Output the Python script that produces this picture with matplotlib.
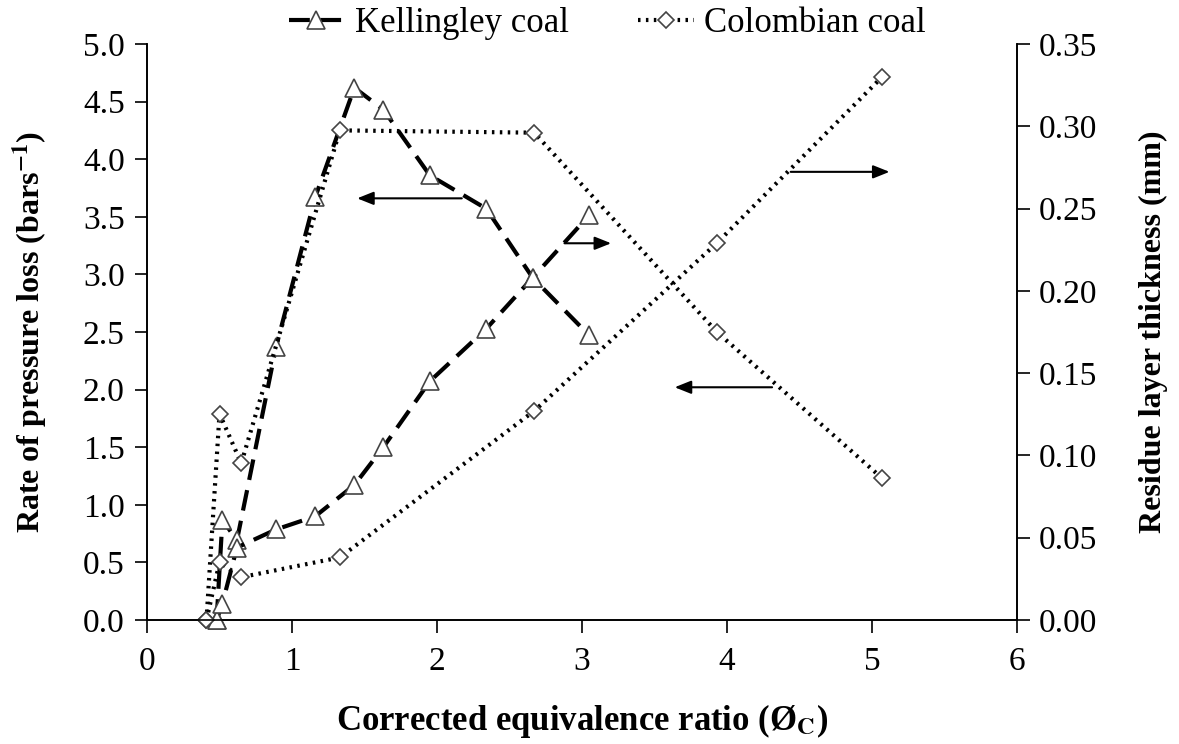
import matplotlib
matplotlib.use("Agg")
import matplotlib.pyplot as plt

plt.rcParams['font.family'] = ['Liberation Serif', 'DejaVu Serif']
plt.rcParams['mathtext.fontset'] = 'stix'

# Kellingley coal
kel_x = [0.48, 0.52, 0.62, 0.89, 1.16, 1.43, 1.63, 1.95, 2.34, 2.66, 3.05]
kel_rate = [0.0, 0.87, 0.69, 2.37, 3.67, 4.62, 4.43, 3.86, 3.57, 2.97, 2.47]
kel_resid = [0.0, 0.010, 0.044, 0.055, 0.063, 0.082, 0.105, 0.145, 0.177, 0.208, 0.246]

# Colombian coal
col_x = [0.41, 0.50, 0.65, 1.33, 2.67, 3.93, 5.07]
col_rate = [0.0, 1.79, 1.36, 4.25, 4.23, 2.50, 1.23]
col_resid = [0.0, 0.035, 0.026, 0.038, 0.127, 0.229, 0.330]

# arrows (start x, end x, y on left axis)
arrows = [(2.19, 1.43, 3.66), (2.86, 3.22, 3.27), (4.42, 5.14, 3.89), (4.33, 3.62, 2.02)]

fig = plt.figure(figsize=(11.79, 7.44), dpi=100)
ax = fig.add_axes([0.1247, 0.1667, 0.7379, 0.7742])
ax2 = ax.twinx()

kw_k = dict(color='black', linestyle=(0, (5, 2.5)), linewidth=3, marker='^', markersize=13,
            markerfacecolor='white', markeredgecolor='#444444', markeredgewidth=1.2, clip_on=False)
kw_c = dict(color='black', linestyle=(0, (0.6, 1.3)), linewidth=3, marker='D', markersize=8,
            markerfacecolor='white', markeredgecolor='#444444', markeredgewidth=1.2, clip_on=False)

lk, = ax.plot(kel_x, kel_rate, label='Kellingley coal', **kw_k)
lc, = ax.plot(col_x, col_rate, label='Colombian coal', **kw_c)
ax2.plot(kel_x, kel_resid, **kw_k)
ax2.plot(col_x, col_resid, **kw_c)

for x0, x1, y in arrows:
    ax.annotate('', xy=(x1, y), xytext=(x0, y),
                arrowprops=dict(arrowstyle='-|>,head_length=0.55,head_width=0.22', color='black',
                                lw=1.5, mutation_scale=18))

ax.set_xlim(0, 6)
ax.set_ylim(0, 5)
ax2.set_ylim(0, 0.35)
ax.set_xticks(range(0, 7))
ax.set_yticks([i * 0.5 for i in range(11)])
ax.set_yticklabels(['%.1f' % (i * 0.5) for i in range(11)])
ax2.set_yticks([i * 0.05 for i in range(8)])
ax2.set_yticklabels(['%.2f' % (i * 0.05) for i in range(8)])

for a in (ax, ax2):
    a.spines['top'].set_visible(False)
    a.tick_params(direction='out', length=9, width=1.2, labelsize=24, pad=7)
    for s in a.spines.values():
        s.set_linewidth(1.2)
ax.tick_params(axis='x', pad=10)

ax.set_xlabel(r'Corrected equivalence ratio (Ø$_{\mathbf{C}}$)', fontsize=25, fontweight='bold', labelpad=18)
ax.set_ylabel(r'Rate of pressure loss (bars$^{\mathbf{-1}}$)', fontsize=23, fontweight='bold', labelpad=24)
ax2.set_ylabel('Residue layer thickness (mm)', fontsize=23, fontweight='bold', labelpad=30)

fig.legend(handles=[lk, lc], loc='center', bbox_to_anchor=(0.515, 0.968), ncol=2, frameon=False,
           fontsize=25, handlelength=1.6, columnspacing=2.0, handletextpad=0.3)

fig.savefig('out.png', dpi=100, facecolor='white')
